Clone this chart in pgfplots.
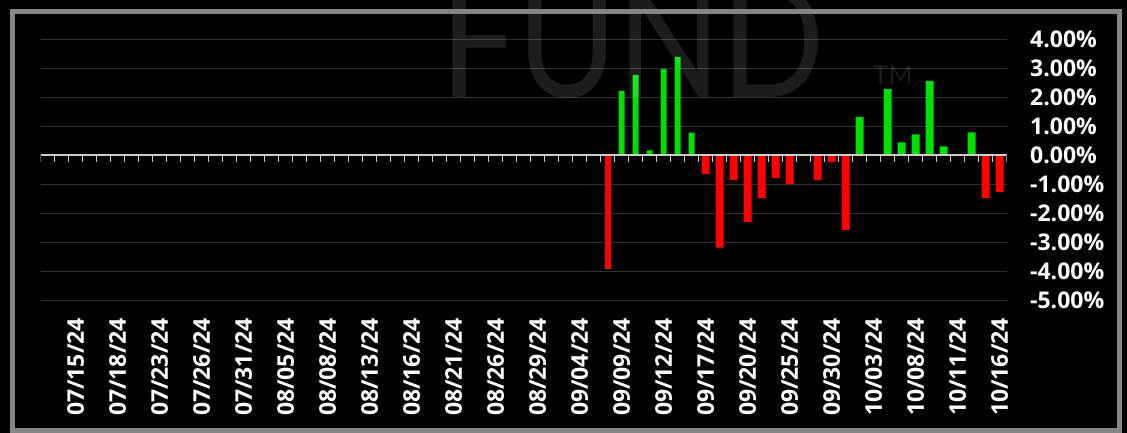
\documentclass[border=0pt]{standalone}
\usepackage{pgfplots}
\pgfplotsset{compat=1.18}
\usepackage{fontspec}
\setmainfont{Open Sans}
\newfontfamily\wmfont{Lato}
\definecolor{bargreen}{HTML}{00E000}
\definecolor{barred}{HTML}{FF0000}
\definecolor{gridgray}{HTML}{303030}
\definecolor{framegray}{HTML}{858585}
\definecolor{zerogray}{HTML}{CCCCCC}
\newcommand\lbl{\bfseries\fontsize{23}{23}\selectfont}
\begin{document}
\begin{tikzpicture}[x=1pt,y=1pt]
\useasboundingbox (0,0) rectangle (1127,433);
\fill[black] (0,0) rectangle (1127,433);
\begin{axis}[
  at={(40.7pt,132.5pt)}, anchor=south west,
  width=966pt, height=261.2pt, scale only axis,
  xmin=-0.5, xmax=68.5, ymin=-5, ymax=4,
  axis line style={draw=none}, tick style={draw=none}, major tick length=0pt,
  ytick={-5,-4,-3,-2,-1,0,1,2,3,4},
  yticklabels={-5.00\%,-4.00\%,-3.00\%,-2.00\%,-1.00\%,0.00\%,1.00\%,2.00\%,3.00\%,4.00\%},
  yticklabel pos=right,
  yticklabel style={anchor=west, inner sep=0pt, xshift=23.3pt, text=white, font=\lbl},
  ymajorgrids, grid style={gridgray, line width=1.3pt},
  xtick={2,5,...,68},
  xticklabels={07/15/24,07/18/24,07/23/24,07/26/24,07/31/24,08/05/24,08/08/24,08/13/24,08/16/24,08/21/24,08/26/24,08/29/24,09/04/24,09/09/24,09/12/24,09/17/24,09/20/24,09/25/24,09/30/24,10/03/24,10/08/24,10/11/24,10/16/24},
  xticklabel style={yshift=-17.5pt, rotate=90, anchor=east, inner sep=0pt, text=white, font=\lbl},
]
% narrow bars
\addplot[ybar, bar width=6pt, bar shift=0pt, fill=barred, draw=none] coordinates {(40,-3.93)};
\addplot[ybar, bar width=6pt, bar shift=0pt, fill=bargreen, draw=none] coordinates {
  (41,2.22) (42,2.77) (43,0.17) (44,2.98) (45,3.39) (46,0.78)};
% wide bars
\addplot[ybar, bar width=8pt, bar shift=0pt, fill=barred, draw=none] coordinates {
  (47,-0.64) (48,-3.18) (49,-0.85) (50,-2.29) (51,-1.47) (52,-0.78) (53,-0.99)
  (55,-0.85) (56,-0.23) (57,-2.57) (67,-1.47) (68,-1.26)};
\addplot[ybar, bar width=8pt, bar shift=0pt, fill=bargreen, draw=none] coordinates {
  (58,1.33) (60,2.29) (61,0.45) (62,0.72) (63,2.57) (64,0.31) (66,0.79)};
% zero axis line with ticks
\draw[zerogray, line width=2pt] (axis cs:-0.5,0) -- (axis cs:68.5,0);
\pgfplotsinvokeforeach{-0.5,0.5,...,68.5}{
  \draw[zerogray, line width=1.3pt] (axis cs:#1,0) -- ++(0pt,-7pt);
}
\end{axis}
\node[anchor=base west, inner sep=0pt, text=white, opacity=0.11, xscale=0.85,
  font=\wmfont\fontsize{160}{160}\selectfont] at (440,335) {FUND};
\node[anchor=base west, inner sep=0pt, text=white, opacity=0.11,
  font=\wmfont\fontsize{26}{26}\selectfont] at (873,348) {TM};
\draw[framegray, line width=5pt] (12.5,2.5) rectangle (1119.5,421.5);
\end{tikzpicture}
\end{document}
